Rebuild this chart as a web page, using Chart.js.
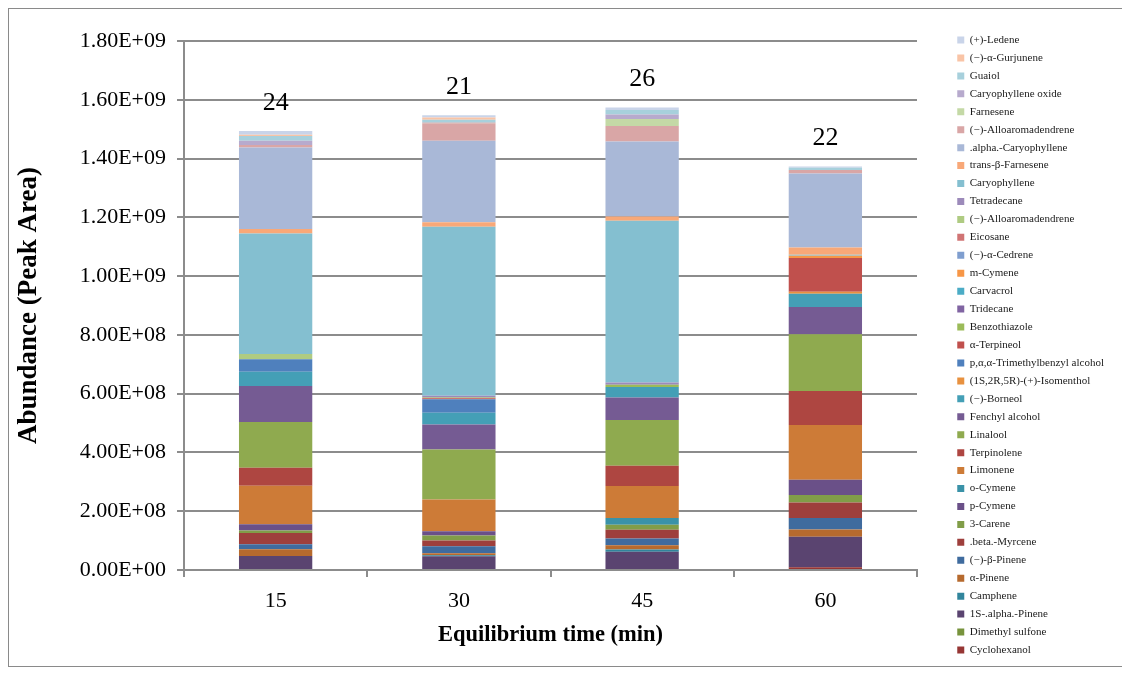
<!DOCTYPE html>
<html lang="en">
  <head>
    <meta charset="UTF-8" />
    <title>Abundance vs Equilibrium time</title>
    <style>
      body {
        margin: 0;
        background: #fff;
      }
      .chart-container {
        position: relative;
        width: 1122px;
        height: 675px;
      }
    </style>
  </head>
  <body>
    <div class="chart-container"><canvas id="myChart"></canvas></div>
    <script src="https://cdn.jsdelivr.net/npm/chart.js@4.4.1/dist/chart.umd.min.js"></script>
    <script>
      const categories = ["15", "30", "45", "60"];
      const compoundCounts = [24, 21, 26, 22];
      const yTickLabels = [
        "0.00E+00", "2.00E+08", "4.00E+08", "6.00E+08", "8.00E+08",
        "1.00E+09", "1.20E+09", "1.40E+09", "1.60E+09", "1.80E+09",
      ];

      // stacked from the bottom up (legend shows them reversed)
      const compounds = [
        "Cyclohexanol", "Dimethyl sulfone", "1S-.alpha.-Pinene", "Camphene", "α-Pinene",
        "(−)-β-Pinene", ".beta.-Myrcene", "3-Carene", "p-Cymene", "o-Cymene",
        "Limonene", "Terpinolene", "Linalool", "Fenchyl alcohol", "(−)-Borneol",
        "(1S,2R,5R)-(+)-Isomenthol", "p,α,α-Trimethylbenzyl alcohol", "α-Terpineol",
        "Benzothiazole", "Tridecane", "Carvacrol", "m-Cymene", "(−)-α-Cedrene",
        "Eicosane", "(−)-Alloaromadendrene", "Tetradecane", "Caryophyllene",
        "trans-β-Farnesene", ".alpha.-Caryophyllene", "(−)-Alloaromadendrene",
        "Farnesene", "Caryophyllene oxide", "Guaiol", "(−)-α-Gurjunene", "(+)-Ledene",
      ];

      const cyclohexanol = [0, 0, 0, 0.9e7];
      const dimethylSulfone = [0, 0, 0, 0];
      const alphaPinene1S = [4.8e7, 4.7e7, 6.2e7, 10.4e7];
      const camphene = [0, 0.3e7, 0.8e7, 0];
      const alphaPinene = [2.3e7, 0.7e7, 1.4e7, 2.5e7];
      const betaPinene = [1.7e7, 2.4e7, 2.3e7, 3.9e7];
      const myrcene = [3.8e7, 1.9e7, 3.0e7, 5.3e7];
      const carene = [0.8e7, 1.7e7, 1.7e7, 2.5e7];
      const pCymene = [2.2e7, 1.5e7, 0, 5.2e7];
      const oCymene = [0, 0, 2.3e7, 0];
      const limonene = [13.1e7, 10.8e7, 10.9e7, 18.6e7];
      const terpinolene = [6.1e7, 0, 6.9e7, 11.6e7];
      const linalool = [15.6e7, 17.0e7, 15.5e7, 19.3e7];
      const fenchylAlcohol = [12.2e7, 8.5e7, 7.7e7, 9.3e7];
      const borneol = [4.9e7, 4.0e7, 3.6e7, 4.5e7];
      const isomenthol = [0, 0, 0, 0.7e7];
      const trimethylbenzyl = [4.2e7, 4.6e7, 0, 0];
      const alphaTerpineol = [0, 0.3e7, 0, 11.5e7];
      const benzothiazole = [0, 0.3e7, 0.7e7, 0];
      const tridecane = [0, 0, 0, 0];
      const carvacrol = [0, 0, 0, 0];
      const mCymene = [0, 0, 0, 0.7e7];
      const cedrene = [0, 0, 0, 0];
      const eicosane = [0, 0, 0, 0];
      const alloaromadendreneA = [1.8e7, 0, 0, 0];
      const tetradecane = [0, 0.6e7, 0.8e7, 0];
      const caryophyllene = [41.0e7, 57.5e7, 55.0e7, 0.4e7];
      const transFarnesene = [1.5e7, 1.5e7, 1.5e7, 2.4e7];
      const alphaCaryophyllene = [27.8e7, 27.8e7, 25.5e7, 25.2e7];
      const alloaromadendreneB = [0.8e7, 5.9e7, 5.3e7, 1.2e7];
      const farnesene = [0, 0.2e7, 2.4e7, 0];
      const caryophylleneOxide = [1.5e7, 0.2e7, 1.5e7, 0];
      const guaiol = [1.6e7, 0.8e7, 1.5e7, 0.8e7];
      const gurjunene = [0.4e7, 0.8e7, 0, 0];
      const ledene = [1.3e7, 0.7e7, 0.9e7, 0.4e7];

      const seriesValues = [
        cyclohexanol, dimethylSulfone, alphaPinene1S, camphene, alphaPinene,
        betaPinene, myrcene, carene, pCymene, oCymene,
        limonene, terpinolene, linalool, fenchylAlcohol, borneol,
        isomenthol, trimethylbenzyl, alphaTerpineol,
        benzothiazole, tridecane, carvacrol, mCymene, cedrene,
        eicosane, alloaromadendreneA, tetradecane, caryophyllene,
        transFarnesene, alphaCaryophyllene, alloaromadendreneB,
        farnesene, caryophylleneOxide, guaiol, gurjunene, ledene,
      ];

      const colors = [
        "#963634", "#77933C", "#5A4470", "#31859C", "#B66A2E",
        "#3F6B9E", "#9E3F3C", "#819D48", "#6A5088", "#3A92A8",
        "#CD7B37", "#AE4641", "#8FAA4F", "#755B93", "#449FB6",
        "#E8913F", "#4F80BD", "#C0504D",
        "#9BBB59", "#8064A2", "#4BACC6", "#F79646", "#7F9ECF",
        "#D07474", "#AFCB82", "#9C8ABA", "#84BFD0",
        "#F8A878", "#A9B8D7", "#D9A6A6",
        "#C4D9A6", "#B7AACD", "#A7D0DC", "#F9C4A6", "#C9D4E9",
      ];

      const datasets = compounds.map((name, i) => ({
        label: name,
        data: seriesValues[i],
        backgroundColor: colors[i],
        borderWidth: 0,
        categoryPercentage: 1.0,
        barPercentage: 0.4,
      }));

      const gridGray = "#8c8c8c";
      const serif = "'Liberation Serif', 'Times New Roman', serif";

      const totalsLabel = {
        id: "totalsLabel",
        afterDatasetsDraw(chart) {
          const { ctx, scales } = chart;
          ctx.save();
          ctx.font = "26px " + serif;
          ctx.fillStyle = "#000";
          ctx.textAlign = "center";
          ctx.textBaseline = "middle";
          compoundCounts.forEach((n, i) => {
            const total = seriesValues.reduce((s, arr) => s + arr[i], 0);
            ctx.fillText(String(n), scales.x.getPixelForValue(i), scales.y.getPixelForValue(total) - 28);
          });
          ctx.restore();
        },
      };

      const frame = {
        id: "frame",
        beforeDraw(chart) {
          const { ctx } = chart;
          ctx.save();
          ctx.fillStyle = "#fff";
          ctx.fillRect(0, 0, chart.width, chart.height);
          ctx.strokeStyle = "#8a8a8a";
          ctx.lineWidth = 1;
          ctx.strokeRect(8.5, 8.5, chart.width + 20, 658);
          ctx.restore();
        },
      };

      const config = {
        type: "bar",
        data: { labels: categories, datasets: datasets },
        plugins: [frame, totalsLabel],
        options: {
          responsive: true,
          maintainAspectRatio: false,
          animation: false,
          layout: { padding: { top: 15, left: 0, right: 8, bottom: 0 } },
          plugins: {
            title: {
              display: true,
              text: " ",
              padding: 0,
              font: { size: 20, lineHeight: "26px" },
            },
            tooltip: { enabled: false },
            legend: {
              position: "right",
              reverse: true,
              labels: {
                boxWidth: 7,
                boxHeight: 7,
                padding: 6.94,
                color: "#1a1a1a",
                font: { family: serif, size: 11, lineHeight: 1.2 },
              },
            },
          },
          scales: {
            x: {
              stacked: true,
              offset: true,
              grid: {
                display: true,
                offset: true,
                drawOnChartArea: false,
                drawTicks: true,
                tickLength: 7,
                color: gridGray,
                lineWidth: 2,
              },
              border: { display: true, color: gridGray, width: 2 },
              ticks: {
                color: "#000",
                padding: 11,
                font: { family: serif, size: 22 },
              },
              title: {
                display: true,
                text: "Equilibrium time (min)",
                color: "#000",
                padding: { top: 0, bottom: 26 },
                font: { family: serif, size: 22.5, weight: "bold" },
              },
              afterFit: (s) => {
                s.height = 105;
              },
            },
            y: {
              stacked: true,
              min: 0,
              max: 1.8e9,
              ticks: {
                stepSize: 2e8,
                color: "#000",
                padding: 11,
                font: { family: serif, size: 22 },
                callback: (v, i) => yTickLabels[i],
              },
              grid: {
                color: gridGray,
                lineWidth: 2,
                tickLength: 7,
              },
              border: { display: true, color: gridGray, width: 2 },
              title: {
                display: true,
                text: "Abundance (Peak Area)",
                color: "#000",
                padding: { top: 13, bottom: 0 },
                font: { family: serif, size: 27, weight: "bold" },
              },
              afterFit: (s) => {
                s.width = 184;
              },
            },
            gap: {
              type: "linear",
              position: "right",
              display: true,
              grid: { display: false },
              border: { display: false },
              ticks: { display: false },
              afterFit: (s) => {
                s.width = Math.max(0, s.chart.width - 8 - s.chart.legend.width - 917);
              },
            },
          },
        },
      };

      const ctx = document.getElementById("myChart").getContext("2d");
      const myChart = new Chart(ctx, config);
    </script>
  </body>
</html>
